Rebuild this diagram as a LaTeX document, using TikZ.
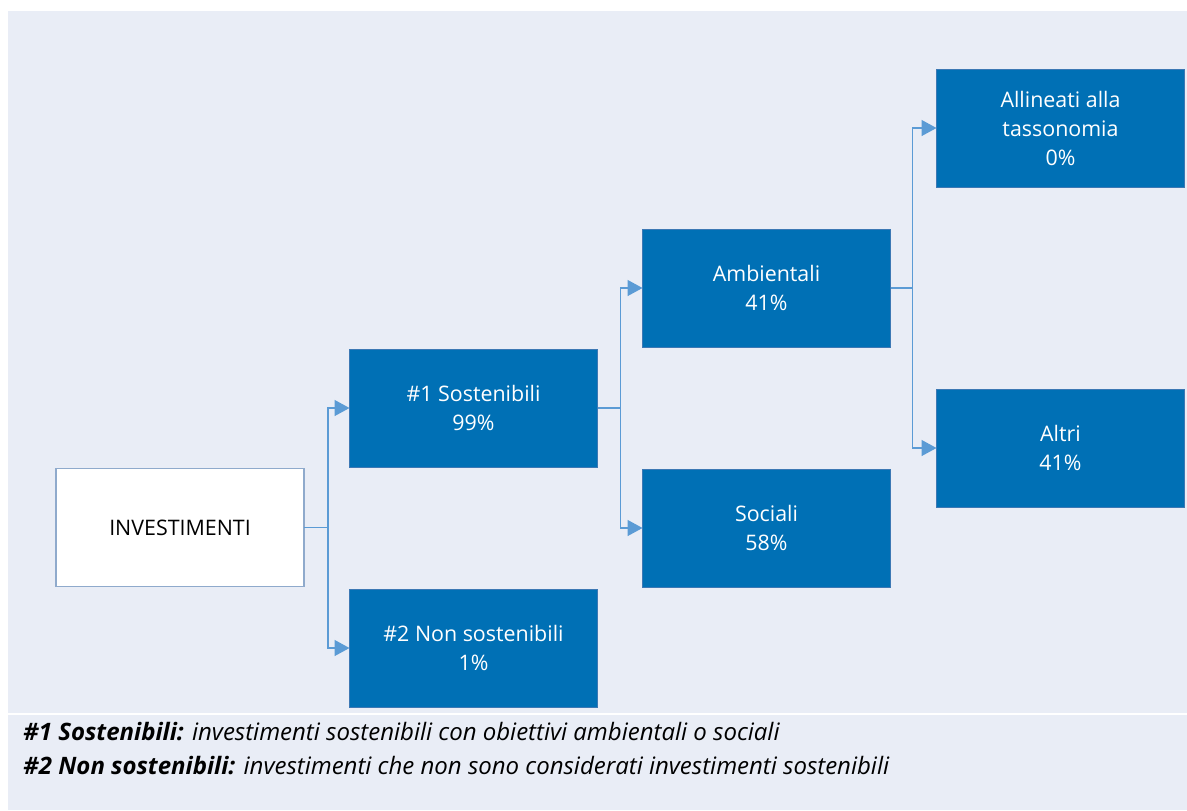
\documentclass[tikz,border=0pt]{standalone}
\usepackage{fontspec}
\setmainfont{Open Sans}
\usepackage{xcolor}
\usetikzlibrary{arrows.meta,calc}

\definecolor{panelbg}{RGB}{233,237,246}
\definecolor{boxblue}{RGB}{0,112,181}
\definecolor{boxedge}{RGB}{60,120,180}
\definecolor{arrowblue}{RGB}{91,155,213}
\definecolor{invedge}{RGB}{143,170,204}

\begin{document}
\begin{tikzpicture}[
        x=0.5pt, y=-0.5pt,
        box/.style={rectangle, minimum width=124pt, minimum height=59pt,
            inner sep=0pt, outer sep=0pt, align=center,
            font=\fontsize{10.7}{14.5}\selectfont},
        bluebox/.style={box, fill=boxblue, draw=boxedge, line width=0.4pt, text=white},
        whitebox/.style={box, fill=white, draw=invedge, line width=0.6pt, text=black},
        conn/.style={draw=arrowblue, line width=0.7pt,
            -{Triangle[length=7.5pt, width=8pt]}},
        legend/.style={anchor=west, inner sep=0pt, font=\fontsize{12}{14}\selectfont}]
        % BACKGROUND
        \useasboundingbox (0,0) rectangle (1187,810);
        \fill[panelbg] (8,11) rectangle (1187,810);
        \draw[white, line width=1pt] (8,714) -- (1187,714);
        % NODES
        % root
        \node[whitebox] (inv) at (180,527.5) {INVESTIMENTI};
        % level 1
        \node[bluebox] (sost) at (473.5,408) {\#1 Sostenibili\\99\%};
        \node[bluebox] (nonsost) at (473.5,648) {\#2 Non sostenibili\\1\%};
        % level 2
        \node[bluebox] (amb) at (766.5,288) {Ambientali\\41\%};
        \node[bluebox] (soc) at (766.5,528) {Sociali\\58\%};
        % level 3
        \node[bluebox] (tax) at (1060.5,128) {Allineati alla\\tassonomia\\0\%};
        \node[bluebox] (altri) at (1060.5,448) {Altri\\41\%};
        % branch points
        \coordinate (b1) at ($(inv.east)+(24,0)$);
        \coordinate (b2) at ($(sost.east)+(23,0)$);
        \coordinate (b3) at ($(amb.east)+(22,0)$);
        % legend
        \node[legend] (leg1) at (23,732) {\textbf{\textit{\#1 Sostenibili:}} \textit{investimenti sostenibili con obiettivi ambientali o sociali}};
        \node[legend] (leg2) at (23,766) {\textbf{\textit{\#2 Non sostenibili:}} \textit{investimenti che non sono considerati investimenti sostenibili}};

        % ARROWS
        \draw[conn] (inv.east) -- (b1) |- (sost.west);
        \draw[conn] (inv.east) -- (b1) |- (nonsost.west);
        \draw[conn] (sost.east) -- (b2) |- (amb.west);
        \draw[conn] (sost.east) -- (b2) |- (soc.west);
        \draw[conn] (amb.east) -- (b3) |- (tax.west);
        \draw[conn] (amb.east) -- (b3) |- (altri.west);
    \end{tikzpicture}
\end{document}
